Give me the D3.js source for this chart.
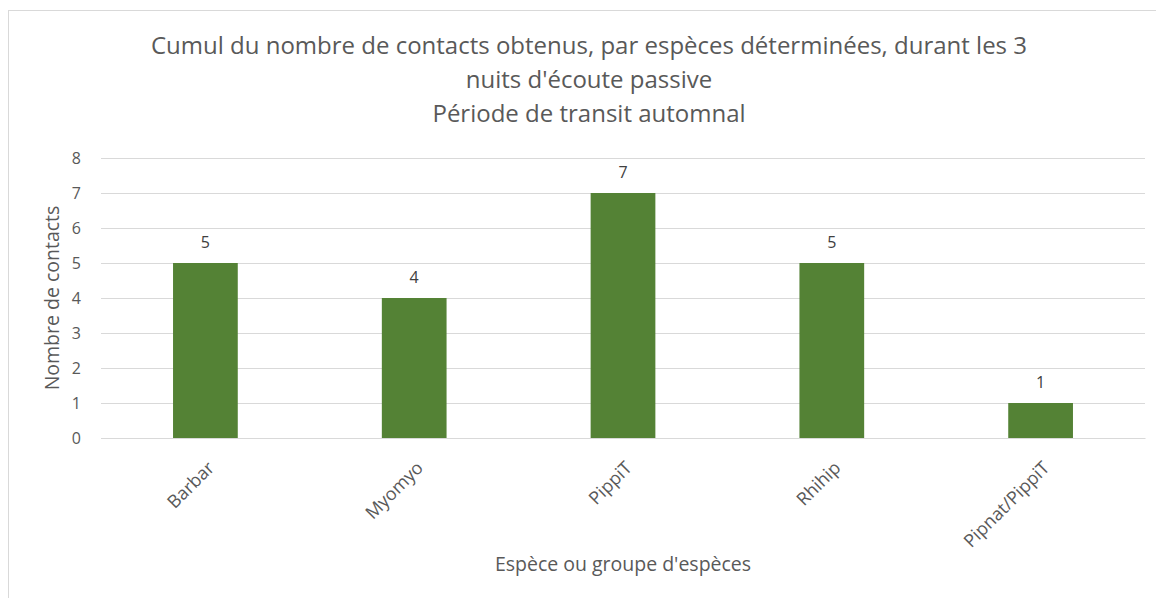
<!DOCTYPE html>
<html>
<head>
<meta charset="utf-8">
<script src="https://cdn.jsdelivr.net/npm/d3@7"></script>
<style>
  body { margin: 0; background: #fff; }
  text { font-family: "Open Sans", sans-serif; fill: #595959; }
</style>
</head>
<body>
<div id="chart"></div>
<script>
// donnees du graphique
var especes = ["Barbar", "Myomyo", "PippiT", "Rhihip", "Pipnat/PippiT"];
var contacts = [5, 4, 7, 5, 1];
var yTicks = [0, 1, 2, 3, 4, 5, 6, 7, 8];
var titre = [
    "Cumul du nombre de contacts obtenus, par espèces déterminées, durant les 3",
    "nuits d'écoute passive",
    "Période de transit automnal"
];

var width = 1156, height = 598;
var margin = { left: 101, right: 11, top: 158, bottom: 160 };

var svg = d3.select("#chart").append("svg")
    .attr("width", width)
    .attr("height", height);

// cadre
svg.append("rect")
    .attr("x", 8.5)
    .attr("y", 10.5)
    .attr("width", width + 20)
    .attr("height", height + 20)
    .style("fill", "none")
    .style("stroke", "#d9d9d9");

var x = d3.scaleBand()
    .domain(especes)
    .range([margin.left, width - margin.right])
    .paddingInner(0.69)
    .paddingOuter(0.345);

var y = d3.scaleLinear()
    .domain([0, 8])
    .range([height - margin.bottom, margin.top]);

// grille
svg.append("g")
    .selectAll("line")
    .data(yTicks)
    .enter()
    .append("line")
    .attr("x1", margin.left)
    .attr("x2", width - margin.right)
    .attr("y1", function (d) { return Math.round(y(d)) + 0.5; })
    .attr("y2", function (d) { return Math.round(y(d)) + 0.5; })
    .style("stroke", "#d9d9d9")
    .style("stroke-width", 1);

// axe y (etiquettes seulement)
var yAxis = svg.append("g")
    .attr("transform", "translate(" + (margin.left - 12) + ",0)")
    .call(d3.axisLeft(y).tickValues(yTicks).tickSize(0).tickPadding(8));
yAxis.select(".domain").remove();
yAxis.selectAll("text")
    .style("font-size", "16px")
    .style("fill", "#595959");

// barres
svg.append("g")
    .selectAll("rect")
    .data(contacts)
    .enter()
    .append("rect")
    .attr("x", function (d, i) { return x(especes[i]); })
    .attr("y", function (d) { return y(d); })
    .attr("width", x.bandwidth())
    .attr("height", function (d) { return y(0) - y(d); })
    .style("fill", "#548235");

// valeurs
svg.append("g")
    .selectAll("text")
    .data(contacts)
    .enter()
    .append("text")
    .attr("x", function (d, i) { return x(especes[i]) + x.bandwidth() / 2; })
    .attr("y", function (d) { return y(d) - 15; })
    .attr("text-anchor", "middle")
    .style("font-size", "16px")
    .style("fill", "#404040")
    .text(function (d) { return d; });

// axe x
var xAxis = svg.append("g")
    .attr("transform", "translate(0," + y(0) + ")")
    .call(d3.axisBottom(x).tickSize(0).tickPadding(0));
xAxis.select(".domain").style("stroke", "#d9d9d9");
xAxis.selectAll("text")
    .attr("text-anchor", "end")
    .attr("dy", null)
    .attr("transform", "translate(10,31) rotate(-45)")
    .style("font-size", "18px")
    .style("fill", "#595959");

// titre
svg.append("text")
    .attr("x", 589)
    .attr("y", 54)
    .attr("text-anchor", "middle")
    .style("font-size", "24px")
    .selectAll("tspan")
    .data(titre)
    .enter()
    .append("tspan")
    .attr("x", 589)
    .attr("dy", function (d, i) { return i === 0 ? 0 : 34; })
    .text(function (d) { return d; });

// titres des axes
svg.append("text")
    .attr("transform", "translate(59," + ((margin.top + height - margin.bottom) / 2) + ") rotate(-90)")
    .attr("text-anchor", "middle")
    .style("font-size", "19.5px")
    .style("fill", "#595959")
    .text("Nombre de contacts");

svg.append("text")
    .attr("x", 623)
    .attr("y", 571)
    .attr("text-anchor", "middle")
    .style("font-size", "19.5px")
    .style("fill", "#595959")
    .text("Espèce ou groupe d'espèces");
</script>
</body>
</html>
